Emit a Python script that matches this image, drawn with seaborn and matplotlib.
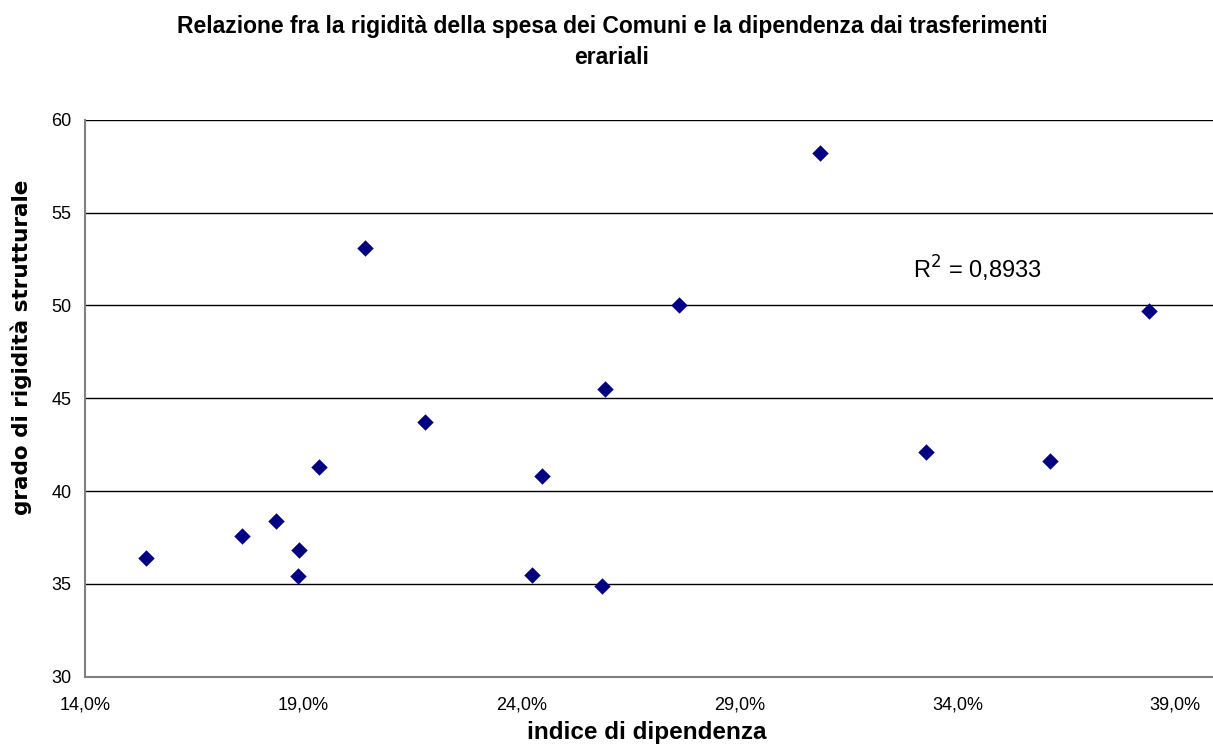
import matplotlib
matplotlib.use("Agg")
import matplotlib.pyplot as plt
import matplotlib.ticker as mticker
import seaborn as sns
import pandas as pd

# Indice di dipendenza dai trasferimenti erariali (quota) e grado di rigidità strutturale
indice_dipendenza = [0.1539, 0.1759, 0.1837, 0.1889, 0.1887, 0.1935, 0.2041, 0.2178,
                     0.2425, 0.2448, 0.2586, 0.2591, 0.2761, 0.3085, 0.3327, 0.3613, 0.3839]
grado_rigidita = [36.4, 37.6, 38.4, 36.8, 35.4, 41.3, 53.1, 43.7,
                  35.5, 40.8, 34.9, 45.5, 50.0, 58.2, 42.1, 41.6, 49.7]
x_ticks = [0.14, 0.19, 0.24, 0.29, 0.34, 0.39]
y_ticks = [30, 35, 40, 45, 50, 55, 60]
r2_label = "R$^2$ = 0,8933"

df = pd.DataFrame({"indice": indice_dipendenza, "grado": grado_rigidita})

sns.set_style("white")
plt.rcParams["font.family"] = ["Liberation Sans", "DejaVu Sans"]
plt.rcParams["text.color"] = "black"
plt.rcParams["axes.labelcolor"] = "black"
plt.rcParams["xtick.color"] = "black"
plt.rcParams["ytick.color"] = "black"

W, H = 1213, 745
fig = plt.figure(figsize=(W / 100, H / 100), dpi=100)
ax = fig.add_axes([85.3 / W, 68.3 / H, (1219 - 85.3) / W, (676.7 - 119.7) / H])

sns.scatterplot(data=df, x="indice", y="grado", ax=ax, marker="D", s=70,
                color="#000080", edgecolor="#000080", linewidth=0, zorder=3)

ax.set_xlim(0.14, 0.40)
ax.set_ylim(30, 60)
ax.set_xticks(x_ticks)
ax.set_yticks(y_ticks)
ax.xaxis.set_major_formatter(mticker.FuncFormatter(
    lambda v, _: f"{v * 100:.1f}%".replace(".", ",")))
ax.yaxis.set_major_formatter(mticker.FuncFormatter(lambda v, _: f"{v:.0f}"))

ax.yaxis.grid(True, color="black", linewidth=1.0)
ax.xaxis.grid(False)
ax.set_axisbelow(True)
for side in ("top", "right"):
    ax.spines[side].set_visible(False)
for side in ("left", "bottom"):
    ax.spines[side].set_color("#808080")
    ax.spines[side].set_linewidth(1.5)
ax.tick_params(axis="both", direction="out", length=5, width=1, color="#808080",
               labelsize=13, labelcolor="black", pad=5)
ax.tick_params(axis="x", pad=9)

ax.set_xlabel("")
ax.set_ylabel("")

fig.text(612 / W, 1 - 27 / H, "Relazione fra la rigidità della spesa dei Comuni e la dipendenza dai trasferimenti",
         ha="center", va="center", fontsize=16.5, fontweight="bold")
fig.text(612 / W, 1 - 58 / H, "erariali",
         ha="center", va="center", fontsize=16.5, fontweight="bold")
fig.text(647 / W, 1 - 733 / H, "indice di dipendenza",
         ha="center", va="center", fontsize=17.5, fontweight="bold")
fig.text(21 / W, 1 - 347 / H, "grado di rigidità strutturale", rotation=90,
         ha="center", va="center", fontsize=15.5, fontweight="bold",
         family=["DejaVu Sans"])

ax.text(0.3446, 51.96, r2_label, ha="center", va="center", fontsize=17)

fig.savefig("out.png", dpi=100)
